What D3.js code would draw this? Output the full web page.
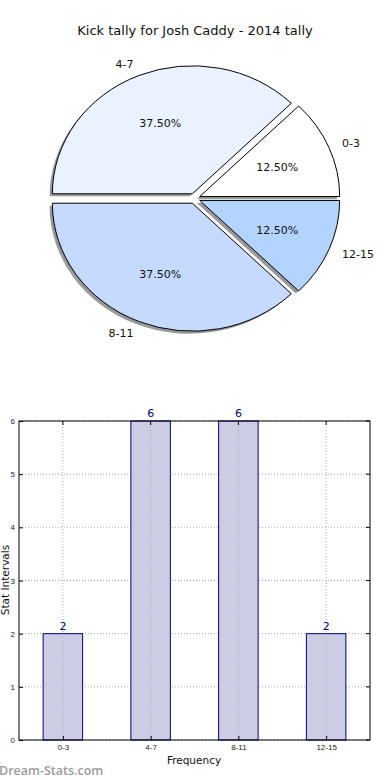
<!DOCTYPE html>
<html>
<head>
<meta charset="utf-8">
<script src="https://cdn.jsdelivr.net/npm/d3@7"></script>
<style>
  body { margin: 0; background: #fff; }
  svg { display: block; font-family: "DejaVu Sans", sans-serif; }
</style>
</head>
<body>
<div class="chart"></div>
<script>
// data
var categories = ["0-3", "4-7", "8-11", "12-15"];
var counts = [2, 6, 6, 2];
var sliceColors = ["#ffffff", "#eaf1ff", "#c6d9ff", "#b3d4ff"];
var yTicks = [0, 1, 2, 3, 4, 5, 6];
var title = "Kick tally for Josh Caddy - 2014 tally";

var width = 390, height = 780;

var svg = d3.select("div.chart")
    .append("svg")
    .attr("width", width)
    .attr("height", height);

svg.append("text")
    .attr("x", 195)
    .attr("y", 35)
    .attr("text-anchor", "middle")
    .style("font-size", "13px")
    .attr("fill", "#111")
    .text(title);

// pie (matplotlib style, counter-clockwise from 0 deg, stretched)
var cx = 194.5, cy = 198.5, rx = 140, ry = 128;
var explode = 0.04;
var total = d3.sum(counts);

var pieData = [];
var start = 0;
counts.forEach(function (c, i) {
    var frac = c / total;
    pieData.push({ label: categories[i], frac: frac, a0: start, a1: start + frac * 2 * Math.PI, color: sliceColors[i] });
    start += frac * 2 * Math.PI;
});

// d3.arc measures angles clockwise from 12 o'clock; convert math angles
var arc = d3.arc().innerRadius(0).outerRadius(1);
function toD3(d) {
    return { startAngle: Math.PI / 2 - d.a1, endAngle: Math.PI / 2 - d.a0 };
}

var pie = svg.append("g");

// shadows first
pieData.forEach(function (d) {
    var mid = (d.a0 + d.a1) / 2;
    var ox = cx + explode * Math.cos(mid) * rx - 2.8;
    var oy = cy - explode * Math.sin(mid) * ry + 2.6;
    pie.append("path")
        .attr("transform", "translate(" + ox + "," + oy + ") scale(" + rx + "," + ry + ")")
        .attr("d", arc(toD3(d)))
        .attr("fill", "#000")
        .attr("fill-opacity", 0.4);
});

pieData.forEach(function (d) {
    var mid = (d.a0 + d.a1) / 2;
    var ox = cx + explode * Math.cos(mid) * rx;
    var oy = cy - explode * Math.sin(mid) * ry;
    pie.append("path")
        .attr("transform", "translate(" + ox + "," + oy + ") scale(" + rx + "," + ry + ")")
        .attr("d", arc(toD3(d)))
        .attr("fill", d.color)
        .attr("stroke", "#000")
        .attr("stroke-width", 1)
        .attr("vector-effect", "non-scaling-stroke");

    // percentage
    var pr = 0.6 + explode;
    pie.append("text")
        .attr("x", cx + pr * Math.cos(mid) * rx)
        .attr("y", cy - pr * Math.sin(mid) * ry)
        .attr("dy", "0.35em")
        .attr("text-anchor", "middle")
        .style("font-size", "11px")
        .attr("fill", "#111")
        .text((d.frac * 100).toFixed(2) + "%");

    // category label
    var lr = 1.1 + explode;
    var lx = cx + lr * Math.cos(mid) * rx;
    pie.append("text")
        .attr("x", lx)
        .attr("y", cy - lr * Math.sin(mid) * ry)
        .attr("dy", "0.35em")
        .attr("text-anchor", Math.cos(mid) >= 0 ? "start" : "end")
        .style("font-size", "11px")
        .attr("fill", "#111")
        .text(d.label);
});

// bar chart
var margin = { left: 19, right: 20, top: 421, bottom: 40 };
var plotW = 370 - margin.left, plotH = 740 - margin.top;

var chart = svg.append("g")
    .attr("transform", "translate(" + margin.left + "," + margin.top + ")");

var x = d3.scaleLinear().domain([-0.5, 3.5]).range([0, plotW]);
var y = d3.scaleLinear().domain([0, 6]).range([plotH, 0]);
var barW = 0.45;

// grid
chart.selectAll("line.gy")
    .data(yTicks)
    .enter()
    .append("line")
    .attr("x1", 0).attr("x2", plotW)
    .attr("y1", function (d) { return y(d); })
    .attr("y2", function (d) { return y(d); })
    .attr("stroke", "#aaa")
    .attr("stroke-dasharray", "1,2");

chart.selectAll("rect.bar")
    .data(counts)
    .enter()
    .append("rect")
    .attr("x", function (d, i) { return x(i - barW / 2); })
    .attr("y", function (d) { return y(d); })
    .attr("width", x(barW) - x(0))
    .attr("height", function (d) { return plotH - y(d); })
    .attr("fill", "#ccccE5")
    .attr("stroke", "#000080")
    .attr("stroke-width", 1);

chart.selectAll("line.gx")
    .data(categories)
    .enter()
    .append("line")
    .attr("x1", function (d, i) { return x(i); })
    .attr("x2", function (d, i) { return x(i); })
    .attr("y1", 0).attr("y2", plotH)
    .attr("stroke", "#aaa")
    .attr("stroke-dasharray", "1,2");

// value labels
chart.selectAll("text.val")
    .data(counts)
    .enter()
    .append("text")
    .attr("x", function (d, i) { return x(i); })
    .attr("y", function (d) { return y(d) - 4; })
    .attr("text-anchor", "middle")
    .style("font-size", "11px")
    .attr("fill", "#000080")
    .text(function (d) { return d; });

// frame
chart.append("rect")
    .attr("width", plotW).attr("height", plotH)
    .attr("fill", "none")
    .attr("stroke", "#000")
    .attr("stroke-width", 1);

// ticks
var yAxis = d3.axisLeft(y).tickValues(yTicks).tickFormat(d3.format("d")).tickSize(-4).tickPadding(4);
chart.append("g").call(yAxis)
    .call(function (g) { g.select(".domain").remove(); })
    .selectAll("text").style("font-size", "8px").attr("fill", "#222");

chart.append("g").selectAll("line.ry")
    .data(yTicks)
    .enter()
    .append("line")
    .attr("x1", plotW - 4).attr("x2", plotW)
    .attr("y1", function (d) { return y(d); })
    .attr("y2", function (d) { return y(d); })
    .attr("stroke", "#000");

var xAxis = d3.axisBottom(x).tickValues([0, 1, 2, 3])
    .tickFormat(function (d) { return categories[d]; })
    .tickSize(-4).tickPadding(4);
chart.append("g").attr("transform", "translate(0," + plotH + ")").call(xAxis)
    .call(function (g) { g.select(".domain").remove(); })
    .selectAll("text").style("font-size", "8px").attr("fill", "#222");

chart.append("g").selectAll("line.tx")
    .data([0, 1, 2, 3])
    .enter()
    .append("line")
    .attr("x1", function (d) { return x(d); })
    .attr("x2", function (d) { return x(d); })
    .attr("y1", 0).attr("y2", 4)
    .attr("stroke", "#000");

// axis labels
svg.append("text")
    .attr("x", 194)
    .attr("y", 764)
    .attr("text-anchor", "middle")
    .style("font-size", "10.5px")
    .attr("fill", "#111")
    .text("Frequency");

svg.append("text")
    .attr("transform", "translate(9,580) rotate(-90)")
    .attr("text-anchor", "middle")
    .style("font-size", "10.5px")
    .attr("fill", "#111")
    .text("Stat Intervals");

// watermark
svg.append("text")
    .attr("x", -1)
    .attr("y", 775)
    .style("font-size", "12.5px")
    .style("font-weight", "600")
    .style("font-family", "'Open Sans', sans-serif")
    .attr("fill", "#9a9a9a")
    .text("Dream-Stats.com");
</script>
</body>
</html>
